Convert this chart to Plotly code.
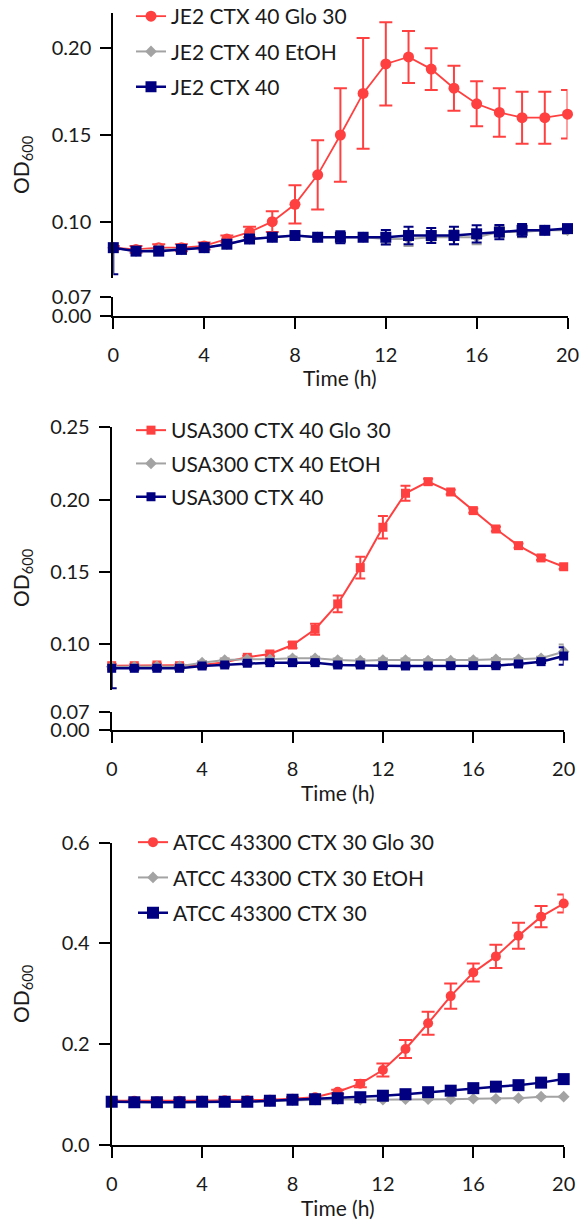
import plotly.graph_objects as go

W, H = 581, 1220
FONT = "Lato"

time_h = list(range(21))
x_ticks = [0, 4, 8, 12, 16, 20]

# ---------------- Panel 1: JE2 ----------------
je2_names = ["JE2 CTX 40 Glo 30", "JE2 CTX 40 EtOH", "JE2 CTX 40"]
je2_glo = [0.085, 0.084, 0.085, 0.085, 0.086, 0.090, 0.094, 0.100, 0.110, 0.127, 0.150,
           0.174, 0.191, 0.195, 0.188, 0.177, 0.168, 0.163, 0.160, 0.160, 0.162]
je2_glo_err = [0.001, 0.002, 0.002, 0.002, 0.002, 0.002, 0.003, 0.006, 0.011, 0.020, 0.027,
               0.032, 0.024, 0.015, 0.012, 0.013, 0.013, 0.014, 0.015, 0.015, 0.014]
je2_etoh = [0.085, 0.083, 0.084, 0.084, 0.085, 0.087, 0.090, 0.091, 0.092, 0.091, 0.091,
            0.091, 0.090, 0.090, 0.091, 0.091, 0.091, 0.094, 0.094, 0.095, 0.095]
je2_etoh_err = [0.001, 0.001, 0.001, 0.001, 0.001, 0.001, 0.001, 0.001, 0.001, 0.001, 0.002,
                0.001, 0.003, 0.004, 0.003, 0.004, 0.004, 0.003, 0.003, 0.002, 0.002]
je2_ctx = [0.085, 0.083, 0.083, 0.084, 0.085, 0.087, 0.090, 0.091, 0.092, 0.091, 0.091,
           0.091, 0.091, 0.092, 0.092, 0.092, 0.093, 0.094, 0.095, 0.095, 0.096]
je2_ctx_err_up = [0.000, 0.001, 0.001, 0.001, 0.001, 0.001, 0.001, 0.001, 0.001, 0.001, 0.0034,
                  0.001, 0.0042, 0.005, 0.0043, 0.005, 0.005, 0.0041, 0.0036, 0.002, 0.002]
je2_ctx_err_down = [0.0154, 0.001, 0.001, 0.001, 0.001, 0.001, 0.001, 0.001, 0.001, 0.001, 0.0034,
                    0.001, 0.0042, 0.005, 0.0043, 0.005, 0.005, 0.0041, 0.0036, 0.002, 0.002]

# ---------------- Panel 2: USA300 ----------------
usa_names = ["USA300 CTX 40 Glo 30", "USA300 CTX 40 EtOH", "USA300 CTX 40"]
usa_glo = [0.0852, 0.0852, 0.0857, 0.0852, 0.0857, 0.0876, 0.0910, 0.0933, 0.0995, 0.1104, 0.1279,
           0.1530, 0.1809, 0.2044, 0.2124, 0.2053, 0.1924, 0.1797, 0.1682, 0.1597, 0.1536]
usa_glo_err = [0.001, 0.001, 0.001, 0.001, 0.001, 0.001, 0.001, 0.0015, 0.002, 0.0038, 0.0058,
               0.0075, 0.0077, 0.0052, 0.002, 0.0015, 0.0015, 0.0015, 0.0015, 0.0015, 0.0015]
usa_etoh = [0.0845, 0.0845, 0.0848, 0.0848, 0.0873, 0.0891, 0.0896, 0.0896, 0.0903, 0.0903, 0.0891,
            0.0887, 0.0891, 0.0891, 0.0887, 0.0887, 0.0891, 0.0896, 0.0896, 0.0903, 0.0949]
usa_etoh_err = [0.001, 0.001, 0.001, 0.001, 0.001, 0.001, 0.001, 0.001, 0.001, 0.001, 0.001,
                0.001, 0.001, 0.001, 0.001, 0.001, 0.001, 0.001, 0.001, 0.001, 0.005]
usa_ctx = [0.0834, 0.0834, 0.0834, 0.0834, 0.0850, 0.0857, 0.0869, 0.0873, 0.0873, 0.0873, 0.0857,
           0.0857, 0.0852, 0.0850, 0.0850, 0.0852, 0.0852, 0.0852, 0.0864, 0.0880, 0.0919]
usa_ctx_err_up = [0.000, 0.001, 0.001, 0.001, 0.001, 0.001, 0.001, 0.001, 0.001, 0.001, 0.001,
                  0.001, 0.001, 0.001, 0.001, 0.001, 0.001, 0.001, 0.001, 0.001, 0.006]
usa_ctx_err_down = [0.0138, 0.001, 0.001, 0.001, 0.001, 0.001, 0.001, 0.001, 0.001, 0.001, 0.001,
                    0.001, 0.001, 0.001, 0.001, 0.001, 0.001, 0.001, 0.001, 0.001, 0.006]

# ---------------- Panel 3: ATCC 43300 ----------------
atcc_names = ["ATCC 43300 CTX 30 Glo 30", "ATCC 43300 CTX 30 EtOH", "ATCC 43300 CTX 30"]
atcc_glo = [0.087, 0.087, 0.086, 0.087, 0.087, 0.088, 0.088, 0.089, 0.091, 0.094, 0.105,
            0.121, 0.148, 0.190, 0.241, 0.295, 0.342, 0.374, 0.415, 0.453, 0.479]
atcc_glo_err = [0.002, 0.002, 0.002, 0.002, 0.002, 0.002, 0.002, 0.002, 0.003, 0.003, 0.004,
                0.007, 0.013, 0.018, 0.023, 0.025, 0.018, 0.023, 0.026, 0.021, 0.018]
atcc_etoh = [0.085, 0.084, 0.084, 0.084, 0.085, 0.085, 0.085, 0.086, 0.088, 0.089, 0.090,
             0.089, 0.089, 0.090, 0.090, 0.090, 0.091, 0.091, 0.092, 0.095, 0.095]
atcc_etoh_err = [0.001] * 21
atcc_ctx = [0.085, 0.084, 0.084, 0.084, 0.085, 0.085, 0.085, 0.087, 0.089, 0.090, 0.092,
            0.094, 0.097, 0.100, 0.104, 0.107, 0.112, 0.115, 0.118, 0.123, 0.130]
atcc_ctx_err = [0.001] * 21

RED = "#FF4040"
GRAY = "#A3A3A3"
NAVY = "#000080"


def px_x(p):
    return p / W


def px_y(p):
    return 1 - p / H


fig = go.Figure()

# empty traces so the lower (broken-axis) segments exist as subplots
for xa, ya in [("x", "y"), ("x2", "y3")]:
    fig.add_trace(go.Scatter(x=[None], y=[None], xaxis=xa, yaxis=ya, showlegend=False,
                             hoverinfo="skip", mode="markers"))


def add_series(xax, yax, leg, name, y, err_up, err_down, color, symbol, msize, lw, capw, group):
    fig.add_trace(go.Scatter(
        x=time_h, y=y, name=name, mode="lines+markers",
        xaxis=xax, yaxis=yax, legend=leg, legendgroup=group,
        line=dict(color=color, width=lw),
        marker=dict(color=color, symbol=symbol, size=msize, line=dict(width=0)),
        error_y=dict(type="data", symmetric=False, array=err_up, arrayminus=err_down,
                     color=color, thickness=2, width=capw),
        cliponaxis=False,
    ))


# Panel 1 traces
add_series("x", "y2", "legend", je2_names[0], je2_glo, je2_glo_err, je2_glo_err, RED, "circle", 11, 1.8, 6.5, "a1")
add_series("x", "y2", "legend", je2_names[1], je2_etoh, je2_etoh_err, je2_etoh_err, GRAY, "diamond", 9, 2, 5, "b1")
add_series("x", "y2", "legend", je2_names[2], je2_ctx, je2_ctx_err_up, je2_ctx_err_down, NAVY, "square", 11, 2.5, 5, "c1")
# Panel 2 traces
add_series("x2", "y4", "legend2", usa_names[0], usa_glo, usa_glo_err, usa_glo_err, RED, "square", 9, 2, 5, "a2")
add_series("x2", "y4", "legend2", usa_names[1], usa_etoh, usa_etoh_err, usa_etoh_err, GRAY, "diamond", 9, 2, 5, "b2")
add_series("x2", "y4", "legend2", usa_names[2], usa_ctx, usa_ctx_err_up, usa_ctx_err_down, NAVY, "square", 9, 2.5, 5, "c2")
# Panel 3 traces
add_series("x3", "y5", "legend3", atcc_names[0], atcc_glo, atcc_glo_err, atcc_glo_err, RED, "circle", 10, 2, 6.5, "a3")
add_series("x3", "y5", "legend3", atcc_names[1], atcc_etoh, atcc_etoh_err, atcc_etoh_err, GRAY, "diamond", 9, 2, 5, "b3")
add_series("x3", "y5", "legend3", atcc_names[2], atcc_ctx, atcc_ctx_err, atcc_ctx_err, NAVY, "square", 12, 2.5, 5, "c3")

tickfont = dict(family=FONT, size=20, color="#1a1a1a")
common = dict(showline=True, linecolor="black", linewidth=2, ticks="outside", ticklen=11,
              tickwidth=2, tickcolor="black", showgrid=False, zeroline=False, tickfont=tickfont)


def xaxis(dom, anchor):
    return dict(domain=dom, anchor=anchor, range=[0, 20], tickvals=x_ticks,
                ticktext=[str(t) for t in x_ticks], ticklabelstandoff=9, **common)


def yaxis(dom, anchor, rng, vals, texts):
    return dict(domain=dom, anchor=anchor, range=rng, tickvals=vals, ticktext=texts,
                ticklabelstandoff=5, **common)


fig.update_layout(
    xaxis=xaxis([px_x(113.3), px_x(567.5)], "y"),
    xaxis2=xaxis([px_x(111.7), px_x(563.7)], "y3"),
    xaxis3=xaxis([px_x(111.7), px_x(563.7)], "y5"),
    # panel 1 lower / upper (broken axis)
    yaxis=yaxis([px_y(316.3), px_y(296.7)], "x", [0, 0.07], [0, 0.07], ["0.00", "0.07"]),
    yaxis2=yaxis([px_y(278), px_y(13.3)], "x", [0.0675, 0.2202],
                 [0.10, 0.15, 0.20], ["0.10", "0.15", "0.20"]),
    # panel 2 lower / upper (broken axis)
    yaxis3=yaxis([px_y(730), px_y(711.7)], "x2", [0, 0.07], [0, 0.07], ["0.00", "0.07"]),
    yaxis4=yaxis([px_y(690), px_y(427.3)], "x2", [0.0684, 0.25],
                 [0.10, 0.15, 0.20, 0.25], ["0.10", "0.15", "0.20", "0.25"]),
    # panel 3
    yaxis5=yaxis([px_y(1144.5), px_y(842.7)], "x3", [0, 0.6],
                 [0, 0.2, 0.4, 0.6], ["0.0", "0.2", "0.4", "0.6"]),
)

legend_common = dict(font=dict(family=FONT, size=21, color="#1a1a1a"), bgcolor="rgba(0,0,0,0)",
                     traceorder="grouped", xanchor="left", yanchor="top", itemclick=False)
fig.update_layout(
    legend=dict(x=px_x(131), y=px_y(-4), tracegroupgap=5, **legend_common),
    legend2=dict(x=px_x(131), y=px_y(410), tracegroupgap=3, **legend_common),
    legend3=dict(x=px_x(133), y=px_y(822), tracegroupgap=5, **legend_common),
)

ann = []
title_font = dict(family=FONT, size=21, color="#1a1a1a")
for xc, yc in [((113.3 + 567.5) / 2, 378), ((111.7 + 563.7) / 2, 792), ((111.7 + 563.7) / 2, 1207)]:
    ann.append(dict(text="Time (h)", x=px_x(xc), y=px_y(yc), xref="paper", yref="paper",
                    xanchor="center", yanchor="middle", showarrow=False, font=title_font))
for yc in [165, 578, 994]:
    ann.append(dict(text="OD<sub>600</sub>", x=px_x(22), y=px_y(yc), xref="paper", yref="paper",
                    xanchor="center", yanchor="middle", showarrow=False, textangle=-90, font=title_font))

fig.update_layout(
    annotations=ann,
    width=W, height=H, autosize=False,
    margin=dict(l=0, r=0, t=0, b=0, autoexpand=False),
    paper_bgcolor="white", plot_bgcolor="white",
    showlegend=True,
)

fig.write_html("out.html")
